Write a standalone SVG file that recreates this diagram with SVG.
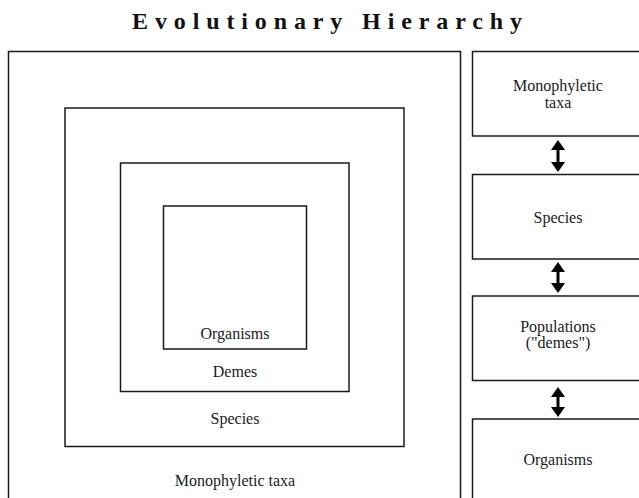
<svg xmlns="http://www.w3.org/2000/svg" width="639" height="498" viewBox="0 0 639 498">
<defs>
<style>
.box{fill:none;stroke:#1a1a1a;stroke-width:1.5}
.lbl{font-family:"Liberation Serif",serif;font-size:16px;fill:#1a1a1a;text-anchor:middle}
.title{font-family:"Liberation Serif",serif;font-size:24px;font-weight:bold;fill:#111}
.arr{stroke:#000;stroke-width:3;fill:none;marker-start:url(#ah);marker-end:url(#ah)}
</style>
<marker id="ah" viewBox="0 0 10 14" refX="6" refY="7" markerWidth="10" markerHeight="14" orient="auto-start-reverse" markerUnits="userSpaceOnUse">
<path d="M0,0 L10,7 L0,14 z" fill="#000"/>
</marker>
</defs>
<rect width="639" height="498" fill="#fff"/>
<text class="title" x="132" y="29" textLength="390" lengthAdjust="spacing">Evolutionary Hierarchy</text>
<g id="nest-monophyletic">
<rect class="box" x="8.5" y="51.5" width="452" height="460"/>
<text class="lbl" x="235" y="486">Monophyletic taxa</text>
</g>
<g id="nest-species">
<rect class="box" x="65" y="108" width="339" height="338.5"/>
<text class="lbl" x="235" y="424">Species</text>
</g>
<g id="nest-demes">
<rect class="box" x="120.5" y="163" width="228.5" height="228.5"/>
<text class="lbl" x="235" y="377">Demes</text>
</g>
<g id="nest-organisms">
<rect class="box" x="163.5" y="206" width="143" height="143"/>
<text class="lbl" x="235" y="339">Organisms</text>
</g>
<g id="r-monophyletic">
<rect class="box" x="472.5" y="51.5" width="180" height="84.5"/>
<text class="lbl" x="558" y="91">Monophyletic</text>
<text class="lbl" x="558" y="107.5">taxa</text>
</g>
<g id="r-species">
<rect class="box" x="472.5" y="174.5" width="180" height="84.5"/>
<text class="lbl" x="558" y="223">Species</text>
</g>
<g id="r-populations">
<rect class="box" x="472.5" y="296" width="180" height="84.5"/>
<text class="lbl" x="558" y="332">Populations</text>
<text class="lbl" x="558" y="348">("demes")</text>
</g>
<g id="r-organisms">
<rect class="box" x="472.5" y="419" width="180" height="100"/>
<text class="lbl" x="558" y="465">Organisms</text>
</g>
<g id="connectors">
<line class="arr" x1="558" y1="144" x2="558" y2="168"/>
<line class="arr" x1="558" y1="266" x2="558" y2="289"/>
<line class="arr" x1="558" y1="391" x2="558" y2="413"/>
</g>
</svg>
